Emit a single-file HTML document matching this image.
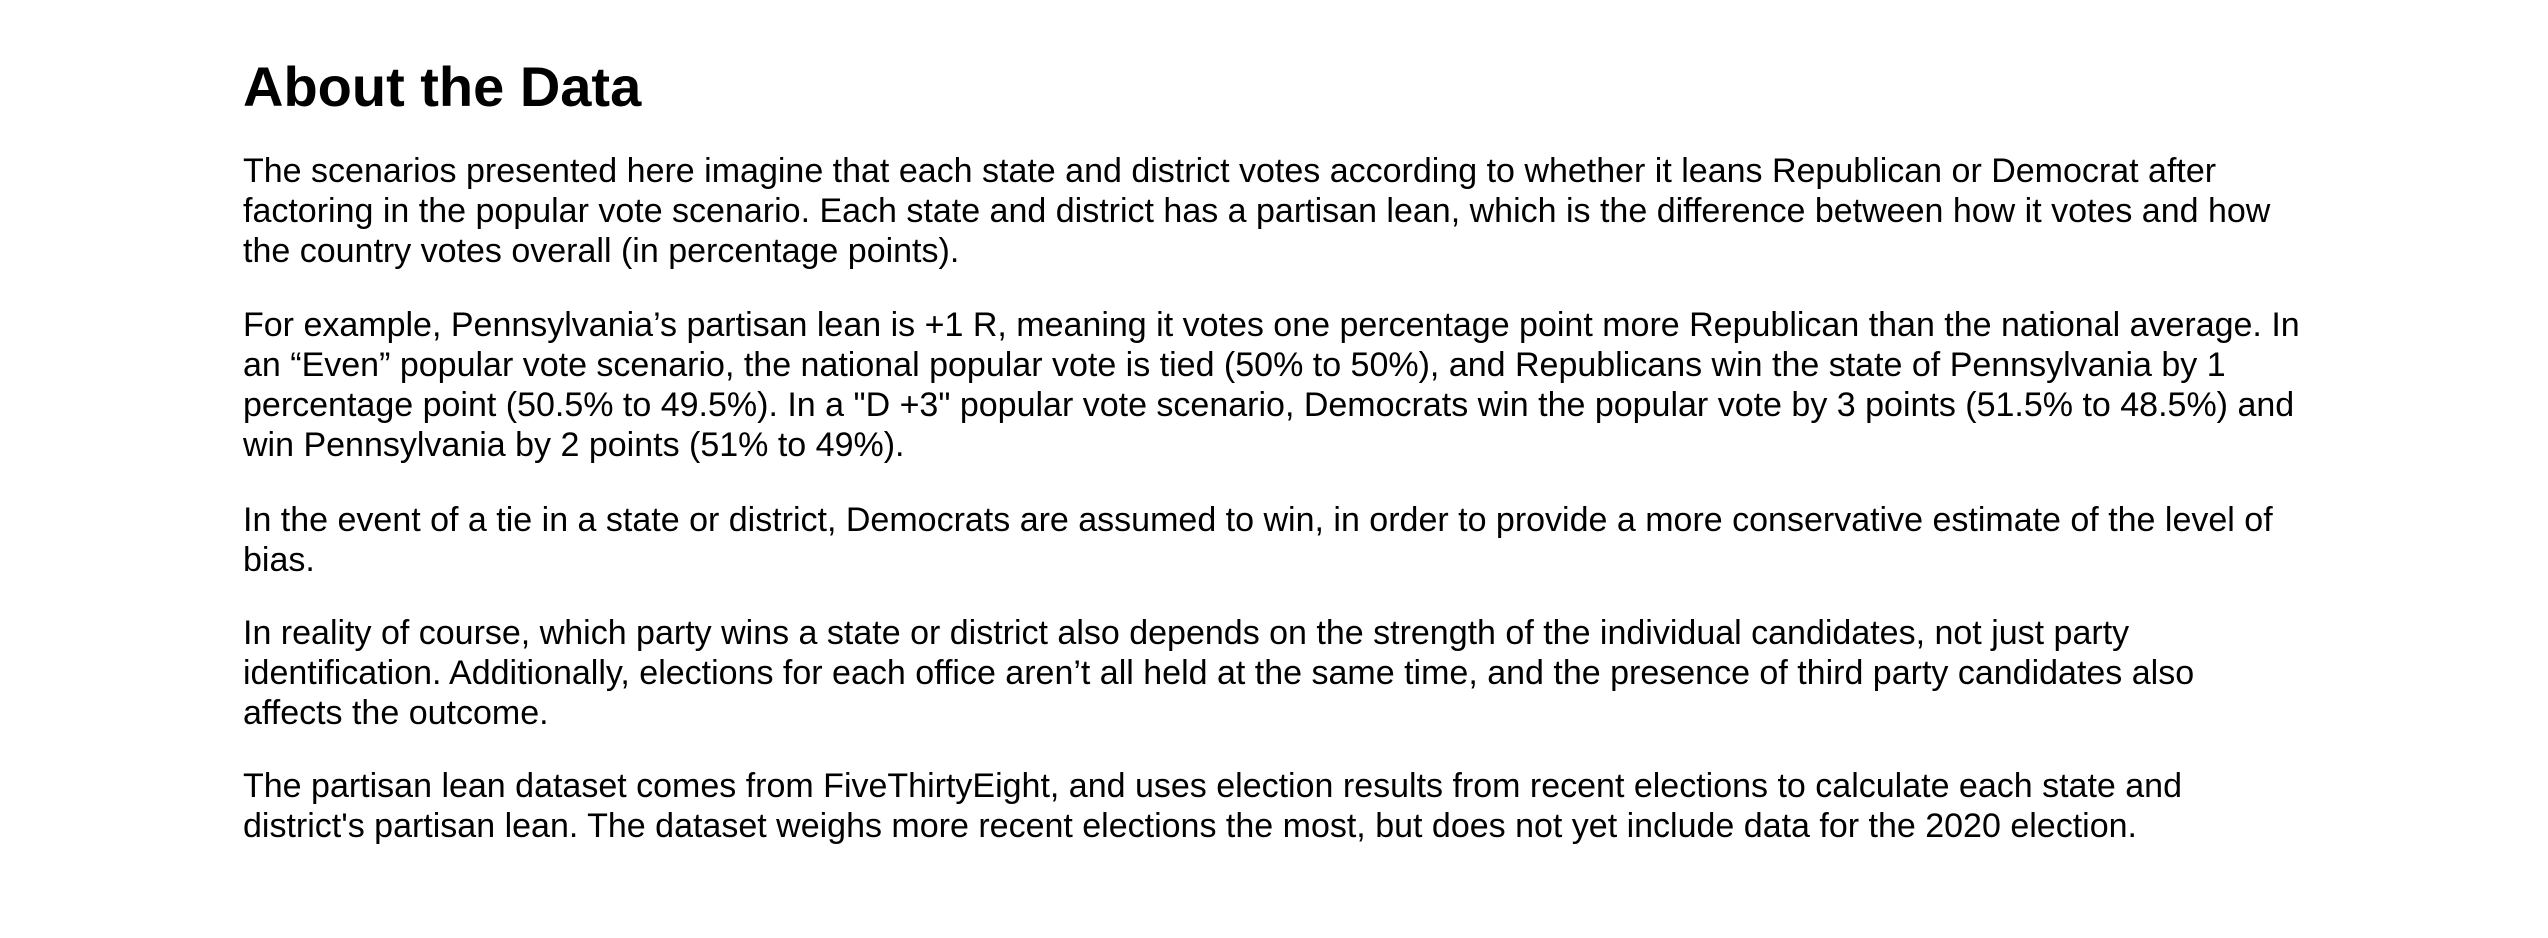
<!DOCTYPE html>
<html><head><meta charset="utf-8"><style>
html,body{margin:0;padding:0;background:#fff;width:2548px;height:938px;overflow:hidden}
body{font-family:"Liberation Sans",Arial,sans-serif;color:#000;position:relative}
h1{position:absolute;left:243px;top:57px;margin:0;font-size:56px;line-height:60px;font-weight:bold;white-space:nowrap}
p{position:absolute;left:243px;margin:0;font-size:34px;line-height:40px;white-space:nowrap}
</style></head><body>
<h1>About the Data</h1>
<p style="top:151px">The scenarios presented here imagine that each state and district votes according to whether it leans Republican or Democrat after<br>factoring in the popular vote scenario. Each state and district has a partisan lean, which is the difference between how it votes and how<br>the country votes overall (in percentage points).</p>
<p style="top:305px">For example, Pennsylvania’s partisan lean is +1 R, meaning it votes one percentage point more Republican than the national average. In<br>an “Even” popular vote scenario, the national popular vote is tied (50% to 50%), and Republicans win the state of Pennsylvania by 1<br>percentage point (50.5% to 49.5%). In a "D +3" popular vote scenario, Democrats win the popular vote by 3 points (51.5% to 48.5%) and<br>win Pennsylvania by 2 points (51% to 49%).</p>
<p style="top:500px">In the event of a tie in a state or district, Democrats are assumed to win, in order to provide a more conservative estimate of the level of<br>bias.</p>
<p style="top:613px">In reality of course, which party wins a state or district also depends on the strength of the individual candidates, not just party<br>identification. Additionally, elections for each office aren’t all held at the same time, and the presence of third party candidates also<br>affects the outcome.</p>
<p style="top:766px">The partisan lean dataset comes from FiveThirtyEight, and uses election results from recent elections to calculate each state and<br>district's partisan lean. The dataset weighs more recent elections the most, but does not yet include data for the 2020 election.</p>
</body></html>
